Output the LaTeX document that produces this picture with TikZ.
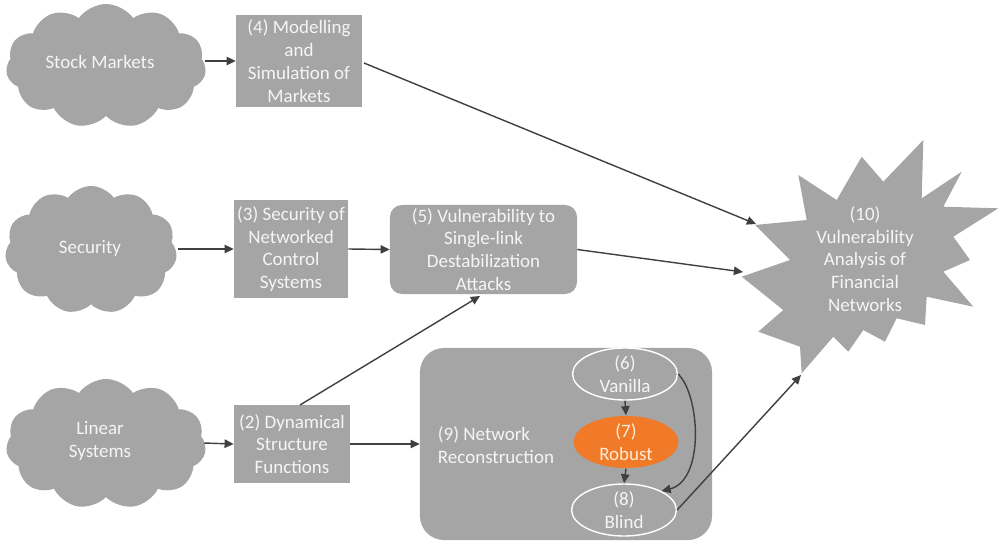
\documentclass[tikz,border=0pt]{standalone}
\usepackage{fontspec}
\setmainfont{Carlito}
\usetikzlibrary{shapes.symbols,shapes.geometric,arrows.meta}
\definecolor{boxgray}{RGB}{165,165,165}
\definecolor{txtwhite}{RGB}{245,245,245}
\definecolor{arrowgray}{RGB}{64,64,64}
\definecolor{orangefill}{RGB}{240,122,40}
\begin{document}
\begin{tikzpicture}[x=0.025cm,y=-0.025cm,
  every node/.style={font=\fontsize{13.5}{16.2}\selectfont, text=txtwhite, align=center},
  cloudnode/.style={cloud, cloud puffs=11, cloud puff arc=110, cloud ignores aspect, fill=boxgray, draw=none, inner sep=0pt},
  sqbox/.style={rectangle, fill=boxgray, draw=none, inner sep=0pt},
  rbox/.style={rectangle, rounded corners=0.3cm, fill=boxgray, draw=none, inner sep=0pt},
  ell/.style={ellipse, draw=white, line width=1pt, inner sep=0pt, minimum width=2.62cm, minimum height=1.2cm},
  conn/.style={draw=arrowgray, line width=1pt, -{Triangle[length=6.5pt,width=6pt]}}
]
\useasboundingbox (0,0) rectangle (999,546);

% clouds
\node[cloudnode, minimum width=5.0cm, minimum height=3.1cm] (sm) at (106,66) {};
\node at (100,62) {Stock Markets};
\node[cloudnode, minimum width=4.3cm, minimum height=3.2cm] (sec) at (91,250) {};
\node at (90,248) {Security};
\node[cloudnode, minimum width=5.0cm, minimum height=3.25cm] (lin) at (106,444) {};
\node at (100,441) {Linear\\Systems};

% boxes
\node[sqbox, minimum width=3.15cm, minimum height=2.3cm] (m4) at (299,61) {(4) Modelling\\and\\Simulation of\\Markets};
\node[sqbox, minimum width=2.85cm, minimum height=2.45cm] (m3) at (291,249) {(3) Security of\\Networked\\Control\\Systems};
\node[rbox, minimum width=4.675cm, minimum height=2.225cm] (m5) at (483.5,249.5) {(5) Vulnerability to\\Single-link\\Destabilization\\Attacks};
\node[sqbox, minimum width=2.9cm, minimum height=1.95cm] (m2) at (292,444) {(2) Dynamical\\Structure\\Functions};
\node[rectangle, rounded corners=0.6cm, fill=boxgray, inner sep=0pt, minimum width=7.3cm, minimum height=4.8cm] (m9) at (566,444) {};
\node[anchor=west, align=left] (m9t) at (433,445) {(9) Network\\Reconstruction};

% ellipses
\node[ell] (v6) at (625,374) {(6)\\Vanilla};
\node[ell, draw=none, fill=orangefill, text={rgb,255:red,253;green,236;blue,215}] (r7) at (626,442) {(7)\\Robust};
\node[ell] (b8) at (624,510) {(8)\\Blind};

% starburst
\fill[boxgray] (798.3,175) -- (836.7,200) -- (861.7,156.7) -- (883.3,181.7) -- (923.3,140)
  -- (921.7,198.3) -- (961.7,171.7) -- (943.3,206.7) -- (998.3,208.3) -- (953.3,236.7)
  -- (970,260) -- (943.3,271.7) -- (973.3,306.7) -- (926.7,296.7) -- (925,325)
  -- (896.7,318.3) -- (885,341.7) -- (863.3,330) -- (848.3,351.7) -- (833.3,336.7)
  -- (801.7,373.3) -- (800,346.7) -- (758.3,331.7) -- (783.3,310) -- (741.7,276.7)
  -- (790,260) -- (755,225) -- (806.7,220) -- cycle;
\node (m10) at (865,259) {(10)\\Vulnerability\\Analysis of\\Financial\\Networks};
\coordinate (tipA) at (756,224);
\coordinate (tipB) at (743,272);
\coordinate (tipC) at (801,375);

% connectors
\draw[conn] (sm.east |- m4.west) -- (m4.west);
\draw[conn] (178,249) -- (m3.west);
\draw[conn] (m3.east) -- (m5.west);
\draw[conn] (204,443) -- (m2.west);
\draw[conn] (m2.east) -- (m9.west);
\draw[conn] (300,405) -- (480,296);
\draw[conn] (364,63) -- (tipA);
\draw[conn] (m5.east) -- (tipB);
\draw[conn] (b8.east) -- (tipC);
\draw[conn] (v6.south) -- (r7.north);
\draw[conn] (r7.south) -- (b8.north);
\draw[conn] (v6.east) .. controls (700,395) and (705,480) .. (b8.north east);
\end{tikzpicture}
\end{document}
